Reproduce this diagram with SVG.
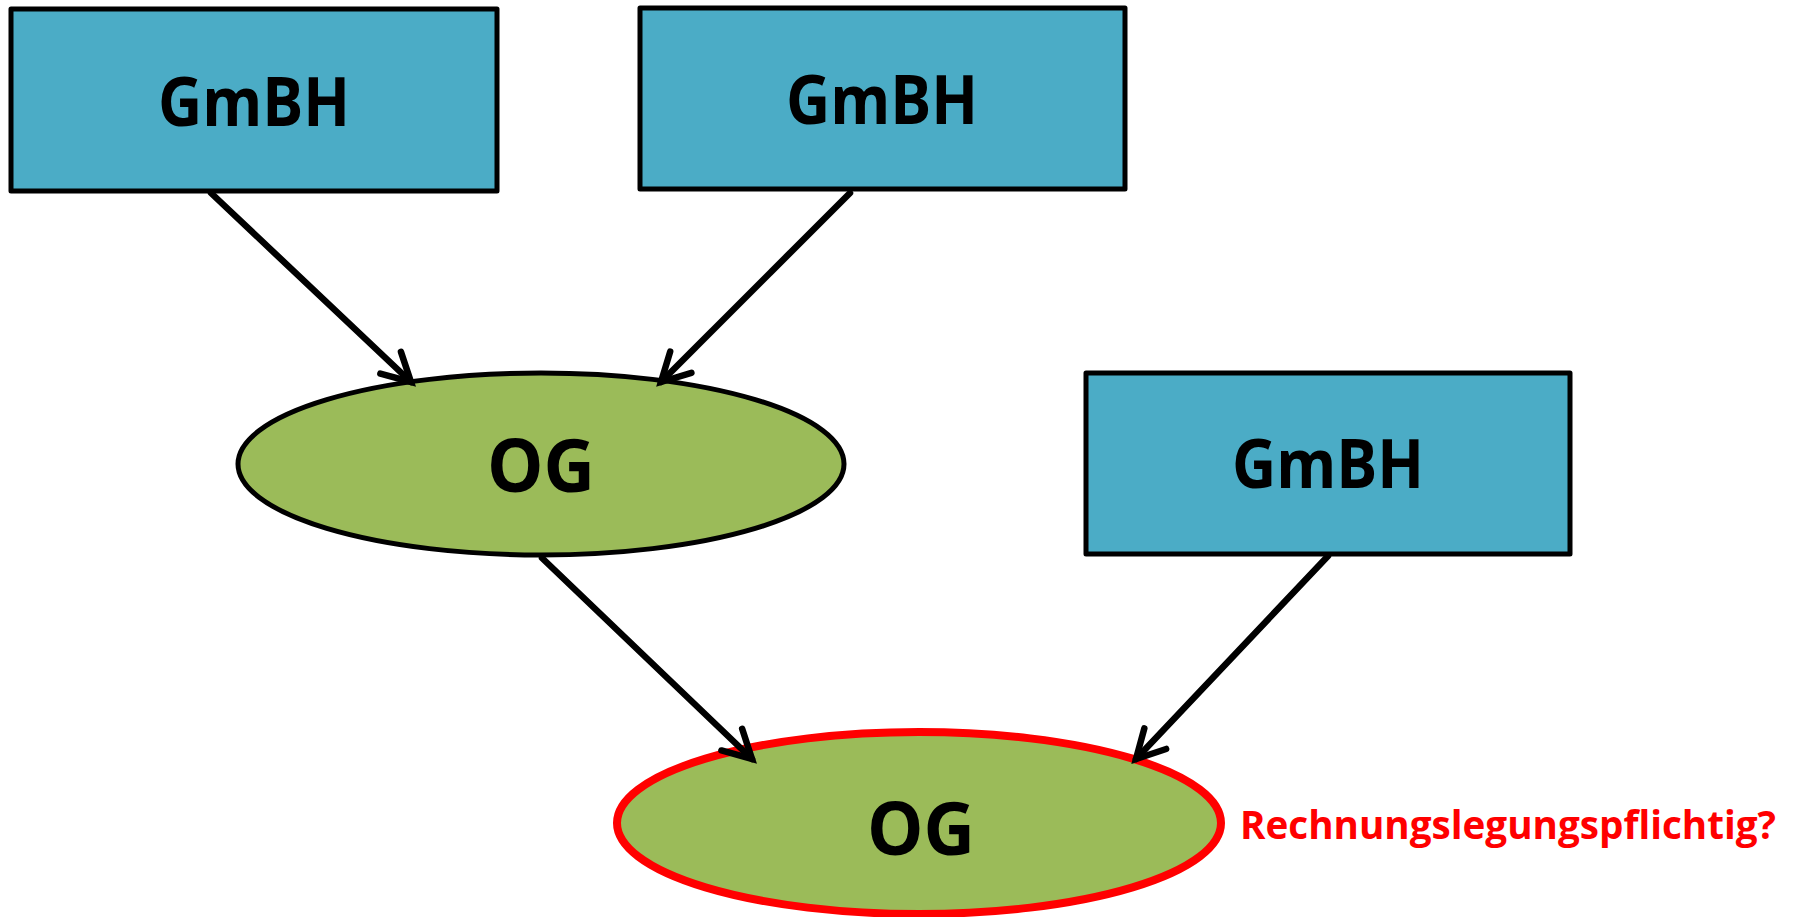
<svg xmlns="http://www.w3.org/2000/svg" width="1798" height="917" viewBox="0 0 1798 917">
  <style>
    .box { fill: #4BACC6; stroke: #000; stroke-width: 5; stroke-linejoin: round; }
    .og { fill: #9BBB59; stroke: #000; stroke-width: 5; }
    .og-red { fill: #9BBB59; stroke: #FF0000; stroke-width: 8; }
    .lbl { font-family: "Open Sans", "Liberation Sans", sans-serif; font-weight: bold; fill: #000; text-anchor: middle; }
    .gmbh { font-size: 68px; }
    .ogt { font-size: 74px; }
    .note { font-family: "Open Sans", "Liberation Sans", sans-serif; font-weight: bold; font-size: 40px; fill: #FF0000; }
    .conn { stroke: #000; stroke-width: 6.5; fill: none; stroke-linecap: round; }
  </style>
  <defs>
    <marker id="arrow" markerUnits="userSpaceOnUse" markerWidth="40" markerHeight="40" refX="0" refY="0" orient="auto" overflow="visible">
      <path d="M-28,-15 L0,0 L-28,15" fill="none" stroke="#000" stroke-width="6.5" stroke-linecap="round" stroke-linejoin="miter"/>
    </marker>
  </defs>
  <rect width="1798" height="917" fill="#FFFFFF"/>

  <g id="gmbh1">
    <rect class="box" x="11" y="9" width="486" height="182"/>
    <text class="lbl gmbh" x="254" y="126" textLength="192" lengthAdjust="spacingAndGlyphs">GmBH</text>
  </g>
  <g id="gmbh2">
    <rect class="box" x="640" y="8" width="485" height="181"/>
    <text class="lbl gmbh" x="882" y="124" textLength="192" lengthAdjust="spacingAndGlyphs">GmBH</text>
  </g>
  <g id="gmbh3">
    <rect class="box" x="1086" y="373" width="484" height="181"/>
    <text class="lbl gmbh" x="1328" y="488" textLength="192" lengthAdjust="spacingAndGlyphs">GmBH</text>
  </g>
  <g id="og1">
    <ellipse class="og" cx="541" cy="464" rx="303" ry="91"/>
    <text class="lbl ogt" x="541" y="492" textLength="108" lengthAdjust="spacingAndGlyphs">OG</text>
  </g>
  <g id="og2">
    <ellipse class="og-red" cx="919" cy="823" rx="302" ry="91"/>
    <text class="lbl ogt" x="921" y="855" textLength="108" lengthAdjust="spacingAndGlyphs">OG</text>
  </g>
  <g id="note">
    <text class="note" x="1240" y="839" textLength="536" lengthAdjust="spacingAndGlyphs">Rechnungslegungspflichtig?</text>
  </g>

  <g id="connectors">
    <line class="conn" x1="211" y1="193" x2="411" y2="382" marker-end="url(#arrow)"/>
    <line class="conn" x1="850" y1="193" x2="661" y2="382" marker-end="url(#arrow)"/>
    <line class="conn" x1="542" y1="558" x2="752" y2="759" marker-end="url(#arrow)"/>
    <line class="conn" x1="1328" y1="556" x2="1136" y2="759" marker-end="url(#arrow)"/>
  </g>
</svg>
